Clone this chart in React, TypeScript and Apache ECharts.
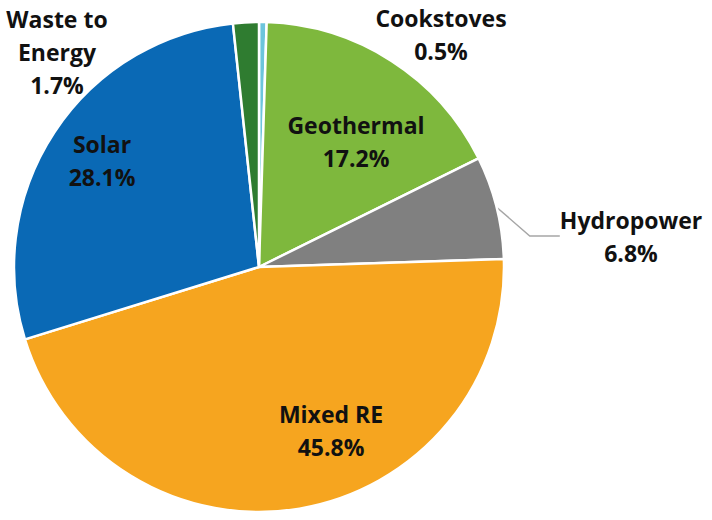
import React, { useEffect, useRef } from "react";
import * as echarts from "echarts";

const categories = ["Cookstoves", "Geothermal", "Hydropower", "Mixed RE", "Solar", "Waste to Energy"];
const labelNames = ["Cookstoves", "Geothermal", "Hydropower", "Mixed RE", "Solar", "Waste to\nEnergy"];
const shares = [0.5, 17.2, 6.8, 45.8, 28.1, 1.7];
const colors = ["#6cc5dc", "#7eb83d", "#808080", "#f6a51f", "#0a69b5", "#2f7c30"];

// label anchor points (layout only)
const labelAnchors: [number, number][] = [
  [441, 34],
  [356, 141],
  [631, 236],
  [331, 430],
  [102, 160],
  [57, 52],
];

export default function App() {
  const ref = useRef<HTMLDivElement>(null);
  useEffect(() => {
    if (!ref.current) return;
    const chart = echarts.init(ref.current, undefined, { renderer: "svg" });
    const data = categories.map((c, i) => ({
      name: c,
      value: shares[i],
      itemStyle: { color: colors[i] },
      label: {
        position: i === 1 || i === 3 || i === 4 ? "inside" : "outside",
      },
      labelLine: { show: i === 2 },
    }));
    chart.setOption({
      animation: false,
      backgroundColor: "#ffffff",
      series: [
        {
          type: "pie",
          center: [259, 267],
          radius: [0, 245],
          startAngle: 90,
          clockwise: true,
          data,
          itemStyle: { borderColor: "#ffffff", borderWidth: 2.5 },
          label: {
            show: true,
            formatter: (p: any) => `${labelNames[p.dataIndex]}\n${shares[p.dataIndex].toFixed(1)}%`,
            fontFamily: "Open Sans",
            fontWeight: "bold",
            fontSize: 23,
            lineHeight: 33,
            color: "#111111",
            align: "center",
          },
          labelLine: {
            show: false,
            smooth: false,
            lineStyle: { color: "#a6a6a6", width: 1.5 },
          },
          labelLayout: (p: any) => {
            const a = labelAnchors[p.dataIndex];
            return { x: a[0], y: a[1], align: "center", verticalAlign: "middle" };
          },
        },
      ],
    });
    return () => chart.dispose();
  }, []);
  return (
    <div
      ref={ref}
      style={{ position: "fixed", left: 0, top: 0, width: 712, height: 520 }}
    />
  );
}
